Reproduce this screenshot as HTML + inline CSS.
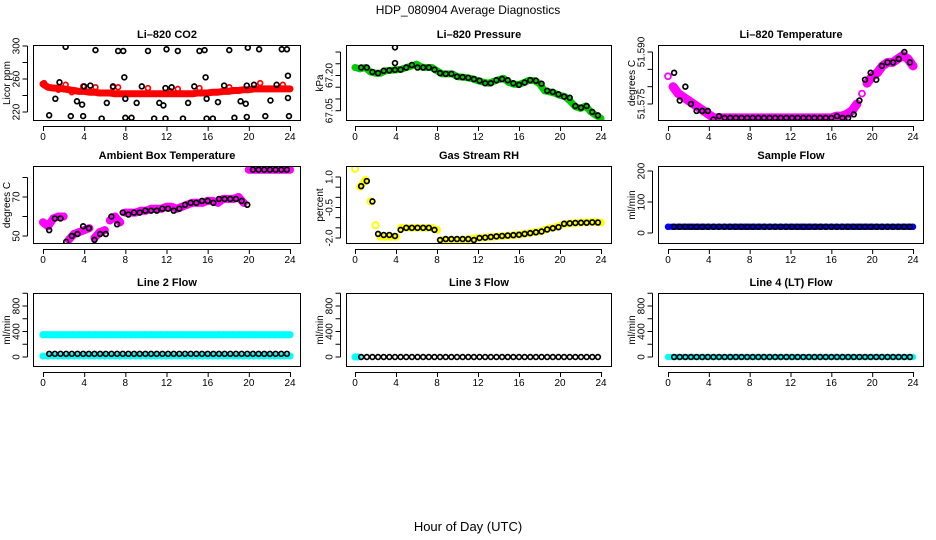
<!DOCTYPE html>
<html><head><meta charset="utf-8">
<style>
html,body{margin:0;padding:0;background:#fff;}
svg{display:block;font-family:"Liberation Sans",sans-serif;}
</style></head>
<body>
<svg id="chart" width="936" height="540" viewBox="0 0 936 540" xmlns="http://www.w3.org/2000/svg">
<text x="468" y="14" text-anchor="middle" font-size="12">HDP_080904  Average Diagnostics</text>
<text x="468" y="531" text-anchor="middle" font-size="13">Hour of Day (UTC)</text>
</svg>
<script>
const hours = [0,0.5,1,1.5,2,2.5,3,3.5,4,4.5,5,5.5,6,6.5,7,7.5,8,8.5,9,9.5,10,10.5,11,11.5,12,12.5,13,13.5,14,14.5,15,15.5,16,16.5,17,17.5,18,18.5,19,19.5,20,20.5,21,21.5,22,22.5,23,23.5,24];
const blackX = [0.6,1.15,1.7,2.25,2.8,3.35,3.9,4.45,5.0,5.55,6.1,6.65,7.2,7.75,8.3,8.85,9.4,9.95,10.5,11.05,11.6,12.15,12.7,13.25,13.8,14.35,14.9,15.45,16.0,16.55,17.1,17.65,18.2,18.75,19.3,19.85,20.4,20.95,21.5,22.05,22.6,23.15,23.7];
const xTicks = [0,4,8,12,16,20,24];

const co2Red = [254,250,249,249,248,247,246,245,245,244,244,243,243,243,242,242,242,242,242,242,242,242,242,242,242,242,242,242,242,242,243,243,243,244,244,245,245,246,246,247,247,248,248,248,248,248,248,248,248];
const co2BlackX = [0.6,1.2,1.6,2.2,2.7,3.3,3.8,3.9,4.0,4.6,5.1,5.7,6.2,6.8,7.3,7.8,7.9,8.0,8.0,8.6,9.1,9.6,10.2,10.8,11.3,11.7,11.9,11.9,12.0,12.5,13.1,13.6,14.1,14.7,15.2,15.7,15.8,15.9,15.9,16.5,17.0,17.6,18.1,18.6,19.2,19.7,19.8,19.8,19.9,20.5,21.0,21.6,22.1,22.7,23.2,23.7,23.8,23.8,23.9];
const co2BlackY = [216,236,256,299,215,233,229,215,251,252,295,212,231,251,294,294,262,236,213,213,231,251,294,212,231,228,212,249,296,250,294,212,231,251,294,295,262,236,212,212,232,252,295,213,233,230,214,252,298,253,296,215,234,253,296,296,264,237,215];
const co2RedOutX = [0.1,1.5,2.2,2.8,3.9,5.1,6.8,7.3,10.2,12.4,13.1,15.2,18.1,20.5,21.1,23.3];
const co2RedOutY = [255,247,253,244,251,250,250,250,249,245,248,249,250,248,255,253];

const pressGreen = [67.234,67.228,67.234,67.215,67.21,67.21,67.22,67.222,67.224,67.226,67.234,67.24,67.248,67.236,67.234,67.234,67.22,67.207,67.207,67.207,67.195,67.193,67.19,67.185,67.178,67.172,67.167,67.175,67.182,67.188,67.17,67.163,67.162,67.17,67.18,67.178,67.165,67.135,67.13,67.124,67.115,67.11,67.09,67.067,67.06,67.07,67.045,67.03,67.017];
const pressBlack = [67.234,67.234,67.215,67.21,67.22,67.222,67.224,67.225,67.234,67.245,67.234,67.234,67.234,67.225,67.21,67.207,67.207,67.195,67.193,67.19,67.185,67.178,67.167,67.167,67.18,67.185,67.18,67.167,67.16,67.17,67.18,67.178,67.165,67.135,67.13,67.12,67.11,67.105,67.07,67.063,67.07,67.045,67.03];
const pressOutX = [3.9,3.9];
const pressOutY = [67.32,67.253];

const tempMag = [51.583,51.580,51.578,51.577,51.576,51.575,51.574,51.573,51.572,51.571,51.571,51.571,51.571,51.571,51.571,51.571,51.571,51.571,51.571,51.571,51.571,51.571,51.571,51.571,51.571,51.571,51.571,51.571,51.571,51.571,51.571,51.571,51.571,51.5715,51.5715,51.572,51.573,51.575,51.578,51.581,51.583,51.584,51.586,51.587,51.587,51.588,51.589,51.588,51.586];
const tempBlack = [51.584,51.576,51.580,51.575,51.573,51.573,51.573,51.5705,51.5715,51.571,51.571,51.571,51.571,51.571,51.571,51.571,51.571,51.571,51.571,51.571,51.571,51.571,51.571,51.571,51.571,51.571,51.571,51.571,51.571,51.5715,51.571,51.571,51.572,51.576,51.582,51.584,51.582,51.586,51.587,51.587,51.588,51.590,51.587];

const ambMag = [57,55,59,60,60,48,51,52,53,54,49,52,53,58,60,57,62,62,62,63,63,64,64,64,65,65,64,65,66,67,67,67,68,68,67,69,69,69,70,67,84,84,84,84,84,84,84,84,84];
const ambBlack = [53,59,59,47,50,51,55,54,48,51,51,60,56,62,61,62,62,63,63,63,64,64,63,64,66,67,67,68,68,67,69,69,69,69,68,66,84,84,84,84,84,84,84];

const rhYellow = [1.4,0.52,0.85,-0.2,-1.37,-1.94,-1.94,-1.94,-1.94,-1.5,-1.5,-1.5,-1.5,-1.5,-1.5,-1.5,-1.6,-2.1,-2.1,-2.1,-2.1,-2.08,-2.06,-2.03,-2.0,-1.98,-1.96,-1.94,-1.92,-1.9,-1.88,-1.86,-1.84,-1.8,-1.76,-1.72,-1.68,-1.6,-1.52,-1.47,-1.4,-1.3,-1.28,-1.26,-1.25,-1.24,-1.22,-1.22,-1.24];
const rhBlack = [0.55,0.8,-0.2,-1.8,-1.85,-1.85,-1.9,-1.6,-1.5,-1.5,-1.5,-1.5,-1.5,-1.6,-2.1,-2.05,-2.05,-2.05,-2.05,-2.05,-2.1,-2.0,-1.98,-1.95,-1.92,-1.9,-1.88,-1.86,-1.84,-1.8,-1.76,-1.72,-1.68,-1.58,-1.52,-1.47,-1.3,-1.28,-1.26,-1.25,-1.25,-1.23,-1.24];

const sampleBlue = [20,20,20,20,20,20,20,20,20,20,20,20,20,20,20,20,20,20,20,20,20,20,20,20,20,20,20,20,20,20,20,20,20,20,20,20,20,20,20,20,20,20,20,20,20,20,20,20,20];
const sampleBlack = [20,20,20,20,20,20,20,20,20,20,20,20,20,20,20,20,20,20,20,20,20,20,20,20,20,20,20,20,20,20,20,20,20,20,20,20,20,20,20,20,20,20,20];

const line2CyanHigh = [350,350,350,350,350,350,350,350,350,350,350,350,350,350,350,350,350,350,350,350,350,350,350,350,350,350,350,350,350,350,350,350,350,350,350,350,350,350,350,350,350,350,350,350,350,350,350,350,350];
const line2CyanLow = [15,15,15,15,15,15,15,15,15,15,15,15,15,15,15,15,15,15,15,15,15,15,15,15,15,15,15,15,15,15,15,15,15,15,15,15,15,15,15,15,15,15,15,15,15,15,15,15,15];
const line2Black = [50,50,50,50,50,50,50,50,50,50,50,50,50,50,50,50,50,50,50,50,50,50,50,50,50,50,50,50,50,50,50,50,50,50,50,50,50,50,50,50,50,50,50];

const line3CyanX = [0,0.3];
const line3Cyan = [0,0];
const line3Black = [0,0,0,0,0,0,0,0,0,0,0,0,0,0,0,0,0,0,0,0,0,0,0,0,0,0,0,0,0,0,0,0,0,0,0,0,0,0,0,0,0,0,0];

const line4Cyan = [0,0,0,0,0,0,0,0,0,0,0,0,0,0,0,0,0,0,0,0,0,0,0,0,0,0,0,0,0,0,0,0,0,0,0,0,0,0,0,0,0,0,0,0,0,0,0,0,0];
const line4Black = [0,0,0,0,0,0,0,0,0,0,0,0,0,0,0,0,0,0,0,0,0,0,0,0,0,0,0,0,0,0,0,0,0,0,0,0,0,0,0,0,0,0,0];

const co2Ticks = [220,240,260,280,300];
const co2Labels = ["220","","260","","300"];
const pressTicks = [67.05,67.10,67.15,67.20,67.25,67.30];
const pressLabels = ["67.05","","","67.20","",""];
const tempTicks = [51.575,51.580,51.585,51.590];
const tempLabels = ["51.575","","","51.590"];
const ambTicks = [50,60,70,80];
const ambLabels = ["50","","70",""];
const rhTicks = [-2.0,-1.5,-1.0,-0.5,0,0.5,1.0];
const rhLabels = ["-2.0","","","-0.5","","","1.0"];
const sampleTicks = [0,100,200];
const sampleLabels = ["0","100","200"];
const flowTicks = [0,200,400,600,800,1000];
const flowLabels = ["0","","400","","800",""];

const svg = document.getElementById('chart');
const NS = 'http://www.w3.org/2000/svg';
function mk(tag, attrs, parent){
  const e = document.createElementNS(NS, tag);
  for (const k in attrs) e.setAttribute(k, attrs[k]);
  (parent||svg).appendChild(e);
  return e;
}
const cols = [{l:33,r:301,x0:43,x24:290},{l:346,r:612,x0:355,x24:601},{l:658,r:924,x0:668,x24:913}];
const rows = [{t:45,b:121},{t:166,b:244},{t:293,b:367}];

function panel(name, title, ylab, ci, ri, ya, yb, ticks, labels, series){
  const c = cols[ci], rw = rows[ri];
  const g = mk('g', {});
  
  
  const xs = v => c.x0 + (c.x24 - c.x0) * v / 24;
  const ys = v => ya.p + (yb.p - ya.p) * (v - ya.v) / (yb.v - ya.v);
  const clipId = 'clip-' + name;
  const cp = mk('clipPath', {id: clipId}, g);
  mk('rect', {x:c.l, y:rw.t, width:c.r-c.l, height:rw.b-rw.t}, cp);
  const pts = mk('g', {'clip-path':'url(#'+clipId+')'}, g);
  
  
  series.forEach(s => {
    const sg = mk('g', {}, pts);
    
    
    if (s.band) {
      let d = '';
      s.x.forEach((xv, i) => {
        const px = xs(xv), py = ys(s.y[i]);
        const jump = i > 0 && Math.abs(py - ys(s.y[i-1])) > 8;
        d += (i === 0 || jump ? 'M' : 'L') + px.toFixed(1) + ',' + py.toFixed(1) + ' ';
      });
      const p = mk('path', {d:d, fill:'none', stroke:s.color, 'stroke-width':s.band, 'stroke-linecap':'round', 'stroke-linejoin':'round'}, sg);
      
      
    }
    s.x.forEach((xv, i) => {
      const el = mk('circle', {cx:xs(xv), cy:ys(s.y[i]), r:s.r||2.4, fill:'none', stroke:s.color, 'stroke-width':s.w||1.7}, sg);
      
      
    });
  });
  const box = mk('rect', {x:c.l+0.5, y:rw.t+0.5, width:c.r-c.l-1, height:rw.b-rw.t-1, fill:'none', stroke:'#000', 'stroke-width':1}, g);
  
  
  const t = mk('text', {x:(c.l+c.r)/2, y:rw.t-7, 'text-anchor':'middle', 'font-size':11, 'font-weight':'bold'}, g);
  t.textContent = title;
  
  
  const xa = mk('g', {}, g);
  
  
  mk('line', {x1:xs(0), x2:xs(24), y1:rw.b+5.5, y2:rw.b+5.5, stroke:'#000'}, xa);
  xTicks.forEach(v => {
    mk('line', {x1:xs(v)+0.5, x2:xs(v)+0.5, y1:rw.b+5, y2:rw.b+10, stroke:'#000'}, xa);
    const tl = mk('text', {x:xs(v), y:rw.b+19, 'text-anchor':'middle', 'font-size':10}, xa);
    tl.textContent = String(v);
    
    
  });
  const yaG = mk('g', {}, g);
  
  
  const ax = c.l - 5.5;
  const yvals = ticks.map(ys).filter(p => p >= rw.t - 6 && p <= rw.b + 6);
  mk('line', {x1:ax, x2:ax, y1:Math.min(...yvals), y2:Math.max(...yvals), stroke:'#000'}, yaG);
  ticks.forEach((v, i) => {
    const p = ys(v);
    if (p < rw.t - 6 || p > rw.b + 6) return;
    mk('line', {x1:ax-5, x2:ax, y1:p, y2:p, stroke:'#000'}, yaG);
    if (labels[i]) {
      const tl = mk('text', {x:0, y:0, 'text-anchor':'middle', 'font-size':10, transform:'translate('+(ax-8)+','+p+') rotate(-90)'}, yaG);
      tl.textContent = labels[i];
      
      
    }
  });
  const yl = mk('text', {x:0, y:0, 'text-anchor':'middle', 'font-size':10, transform:'translate('+(c.l-23)+','+((rw.t+rw.b)/2)+') rotate(-90)'}, g);
  yl.textContent = ylab;
  
  
}

panel('co2', 'Li\u2013820 CO2', 'Licor ppm', 0, 0, {v:300,p:46}, {v:220,p:112}, co2Ticks, co2Labels, [
  {name:'co2-red-series', x:hours, y:co2Red, color:'#ff0000', r:2.4, w:1.7, band:7},
  {name:'co2-red-scatter', x:co2RedOutX, y:co2RedOutY, color:'#ff0000'},
  {name:'co2-black-series', x:co2BlackX, y:co2BlackY, color:'#000'}]);
panel('pressure', 'Li\u2013820 Pressure', 'kPa', 1, 0, {v:67.20,p:75.5}, {v:67.05,p:110.7}, pressTicks, pressLabels, [
  {name:'pressure-green-series', x:hours, y:pressGreen, color:'#00cc00', r:2.4, w:1.7, band:7},
  {name:'pressure-black-series', x:blackX, y:pressBlack, color:'#000'},
  {name:'pressure-outlier-series', x:pressOutX, y:pressOutY, color:'#000'}]);
panel('temperature', 'Li\u2013820 Temperature', 'degrees C', 2, 0, {v:51.590,p:52}, {v:51.575,p:104}, tempTicks, tempLabels, [
  {name:'temperature-magenta-series', x:hours, y:tempMag, color:'#ff00ff', r:3, w:1.8, band:9},
  {name:'temperature-black-series', x:blackX, y:tempBlack, color:'#000'}]);
panel('ambient', 'Ambient Box Temperature', 'degrees C', 0, 1, {v:70,p:197}, {v:50,p:236}, ambTicks, ambLabels, [
  {name:'ambient-magenta-series', x:hours, y:ambMag, color:'#ff00ff', r:3, w:2, band:8},
  {name:'ambient-black-series', x:blackX, y:ambBlack, color:'#000'}]);
panel('rh', 'Gas Stream RH', 'percent', 1, 1, {v:1.0,p:177}, {v:-2.0,p:238}, rhTicks, rhLabels, [
  {name:'rh-yellow-series', x:hours, y:rhYellow, color:'#ffff00', r:3, w:2, band:7},
  {name:'rh-black-series', x:blackX, y:rhBlack, color:'#000'}]);
panel('sample-flow', 'Sample Flow', 'ml/min', 2, 1, {v:200,p:171}, {v:0,p:233}, sampleTicks, sampleLabels, [
  {name:'sample-flow-blue-series', x:hours, y:sampleBlue, color:'#0000ff', r:2.4, w:1.7, band:6},
  {name:'sample-flow-black-series', x:blackX, y:sampleBlack, color:'#000'}]);
panel('line2-flow', 'Line 2 Flow', 'ml/min', 0, 2, {v:0,p:357}, {v:800,p:306}, flowTicks, flowLabels, [
  {name:'line2-cyan-high-series', x:hours, y:line2CyanHigh, color:'#00ffff', r:2.6, w:2, band:7},
  {name:'line2-cyan-low-series', x:hours, y:line2CyanLow, color:'#00ffff', r:2.6, w:2, band:6},
  {name:'line2-black-series', x:blackX, y:line2Black, color:'#000'}]);
panel('line3-flow', 'Line 3 Flow', 'ml/min', 1, 2, {v:0,p:357}, {v:800,p:306}, flowTicks, flowLabels, [
  {name:'line3-cyan-series', x:line3CyanX, y:line3Cyan, color:'#00ffff', r:2.6, w:2, band:6},
  {name:'line3-black-series', x:blackX, y:line3Black, color:'#000'}]);
panel('line4-flow', 'Line 4 (LT) Flow', 'ml/min', 2, 2, {v:0,p:357}, {v:800,p:306}, flowTicks, flowLabels, [
  {name:'line4-cyan-series', x:hours, y:line4Cyan, color:'#00ffff', r:2.4, w:1.7, band:6},
  {name:'line4-black-series', x:blackX, y:line4Black, color:'#000'}]);
</script>
</body></html>
